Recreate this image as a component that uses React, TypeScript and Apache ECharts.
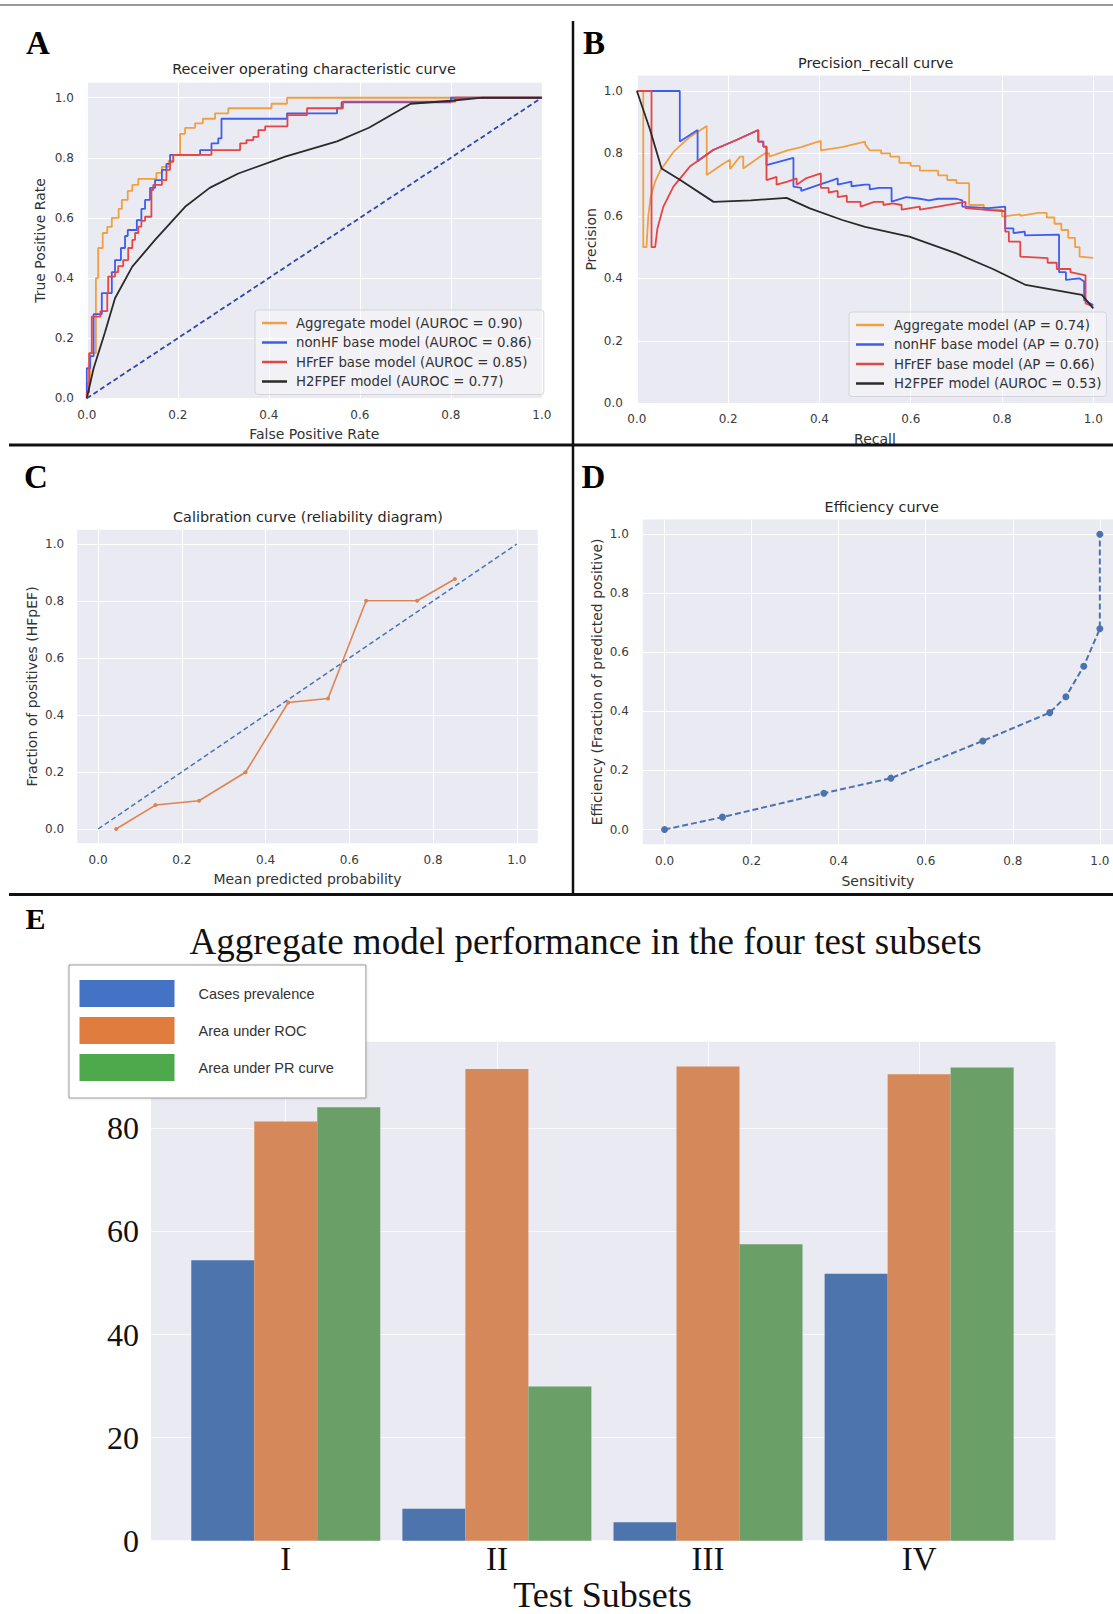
import React, { useEffect, useRef } from 'react';
import * as echarts from 'echarts';

// ---------- Panel A: ROC curves [FPR, TPR] ----------
const rocAggregate = [[0,0],[0,0.05],[0.008,0.05],[0.008,0.15],[0.02,0.15],[0.02,0.4],[0.025,0.4],[0.025,0.5],[0.035,0.5],[0.035,0.55],[0.045,0.55],[0.045,0.57],[0.055,0.57],[0.055,0.6],[0.07,0.6],[0.07,0.63],[0.077,0.63],[0.077,0.66],[0.09,0.66],[0.09,0.69],[0.1,0.69],[0.1,0.71],[0.113,0.71],[0.113,0.73],[0.153,0.73],[0.153,0.75],[0.165,0.75],[0.165,0.77],[0.18,0.77],[0.18,0.79],[0.19,0.79],[0.19,0.81],[0.205,0.81],[0.205,0.88],[0.216,0.88],[0.216,0.9],[0.238,0.9],[0.238,0.915],[0.255,0.915],[0.255,0.93],[0.282,0.93],[0.282,0.948],[0.311,0.948],[0.311,0.965],[0.406,0.965],[0.406,0.98],[0.44,0.98],[0.44,1.0],[1,1]];
const rocNonHF = [[0,0],[0,0.1],[0.007,0.1],[0.007,0.14],[0.015,0.14],[0.015,0.28],[0.033,0.28],[0.033,0.35],[0.055,0.35],[0.055,0.42],[0.062,0.42],[0.062,0.46],[0.075,0.46],[0.075,0.5],[0.084,0.5],[0.084,0.54],[0.09,0.54],[0.09,0.56],[0.11,0.56],[0.11,0.593],[0.12,0.593],[0.12,0.63],[0.128,0.63],[0.128,0.66],[0.139,0.66],[0.139,0.7],[0.15,0.7],[0.15,0.726],[0.165,0.726],[0.165,0.76],[0.175,0.76],[0.175,0.78],[0.183,0.78],[0.183,0.81],[0.249,0.81],[0.249,0.826],[0.274,0.826],[0.274,0.848],[0.289,0.848],[0.289,0.865],[0.296,0.865],[0.296,0.93],[0.44,0.93],[0.44,0.948],[0.55,0.948],[0.55,0.965],[0.56,0.965],[0.56,0.985],[0.8,0.985],[0.8,1.0],[1,1]];
const rocHFrEF = [[0,0],[0,0.02],[0.005,0.02],[0.005,0.15],[0.011,0.15],[0.011,0.272],[0.03,0.272],[0.03,0.29],[0.045,0.29],[0.045,0.35],[0.047,0.35],[0.047,0.405],[0.062,0.405],[0.062,0.42],[0.069,0.42],[0.069,0.44],[0.08,0.44],[0.08,0.46],[0.091,0.46],[0.091,0.5],[0.1,0.5],[0.1,0.527],[0.106,0.527],[0.106,0.55],[0.113,0.55],[0.113,0.571],[0.12,0.571],[0.12,0.59],[0.128,0.59],[0.128,0.604],[0.142,0.604],[0.142,0.693],[0.146,0.693],[0.146,0.71],[0.165,0.71],[0.165,0.726],[0.175,0.726],[0.175,0.76],[0.183,0.76],[0.183,0.787],[0.19,0.787],[0.19,0.81],[0.274,0.81],[0.274,0.826],[0.337,0.826],[0.337,0.848],[0.351,0.848],[0.351,0.859],[0.366,0.859],[0.366,0.87],[0.377,0.87],[0.377,0.892],[0.392,0.892],[0.392,0.905],[0.441,0.905],[0.441,0.942],[0.484,0.942],[0.484,0.965],[0.563,0.965],[0.563,0.987],[0.81,0.987],[0.81,1.0],[1,1]];
const rocH2FPEF = [[0,0],[0.015,0.1],[0.04,0.22],[0.062,0.333],[0.1,0.438],[0.15,0.527],[0.216,0.637],[0.27,0.7],[0.333,0.748],[0.436,0.804],[0.55,0.855],[0.62,0.9],[0.712,0.98],[0.8,0.99],[0.87,1.0],[1,1]];
const rocChance = [[0,0],[1,1]];
const rocNames = ['Aggregate model (AUROC = 0.90)', 'nonHF base model (AUROC = 0.86)', 'HFrEF base model (AUROC = 0.85)', 'H2FPEF model (AUROC = 0.77)'];

// ---------- Panel B: precision-recall curves [recall, precision] ----------
const prAggregate = [[0,1],[0.014,1],[0.014,0.5],[0.021,0.5],[0.025,0.6],[0.03,0.66],[0.04,0.71],[0.051,0.745],[0.08,0.805],[0.116,0.853],[0.153,0.888],[0.153,0.731],[0.19,0.768],[0.204,0.78],[0.204,0.75],[0.226,0.79],[0.233,0.79],[0.233,0.752],[0.28,0.8],[0.29,0.8],[0.29,0.79],[0.33,0.81],[0.36,0.82],[0.38,0.83],[0.403,0.84],[0.403,0.81],[0.45,0.82],[0.5,0.838],[0.5,0.83],[0.51,0.81],[0.535,0.81],[0.535,0.8],[0.555,0.8],[0.555,0.79],[0.575,0.79],[0.575,0.77],[0.6,0.77],[0.6,0.76],[0.62,0.76],[0.62,0.745],[0.66,0.745],[0.66,0.73],[0.68,0.73],[0.68,0.715],[0.7,0.715],[0.7,0.705],[0.728,0.705],[0.728,0.635],[0.76,0.635],[0.76,0.62],[0.8,0.62],[0.8,0.598],[0.84,0.605],[0.84,0.6],[0.88,0.61],[0.898,0.61],[0.898,0.595],[0.915,0.595],[0.915,0.575],[0.93,0.575],[0.93,0.555],[0.945,0.555],[0.945,0.53],[0.96,0.53],[0.96,0.5],[0.97,0.5],[0.97,0.47],[1.0,0.466]];
const prNonHF = [[0,1],[0.094,1],[0.094,0.838],[0.133,0.875],[0.133,0.775],[0.167,0.811],[0.218,0.843],[0.266,0.875],[0.266,0.838],[0.277,0.838],[0.277,0.822],[0.284,0.822],[0.284,0.763],[0.343,0.786],[0.343,0.694],[0.36,0.69],[0.36,0.68],[0.4,0.7],[0.42,0.71],[0.44,0.72],[0.44,0.7],[0.47,0.71],[0.47,0.695],[0.5,0.7],[0.51,0.7],[0.51,0.685],[0.53,0.69],[0.558,0.69],[0.558,0.646],[0.59,0.66],[0.62,0.655],[0.64,0.65],[0.66,0.655],[0.7,0.655],[0.713,0.65],[0.713,0.63],[0.77,0.625],[0.807,0.63],[0.807,0.56],[0.825,0.56],[0.825,0.545],[0.85,0.55],[0.85,0.538],[0.925,0.54],[0.925,0.42],[0.94,0.42],[0.94,0.395],[0.97,0.4],[0.98,0.39],[0.98,0.33],[1.0,0.315]];
const prHFrEF = [[0,1],[0.032,1],[0.032,0.5],[0.04,0.5],[0.045,0.56],[0.058,0.63],[0.08,0.694],[0.116,0.758],[0.167,0.811],[0.218,0.843],[0.266,0.875],[0.266,0.838],[0.277,0.838],[0.277,0.822],[0.284,0.822],[0.284,0.715],[0.306,0.725],[0.306,0.7],[0.33,0.71],[0.35,0.72],[0.35,0.7],[0.37,0.72],[0.403,0.736],[0.403,0.69],[0.42,0.69],[0.42,0.675],[0.44,0.68],[0.44,0.66],[0.46,0.665],[0.46,0.645],[0.49,0.645],[0.49,0.63],[0.52,0.645],[0.54,0.645],[0.54,0.635],[0.56,0.64],[0.58,0.635],[0.58,0.62],[0.62,0.63],[0.62,0.62],[0.66,0.63],[0.7,0.64],[0.72,0.645],[0.72,0.625],[0.76,0.62],[0.807,0.615],[0.807,0.55],[0.815,0.55],[0.815,0.518],[0.84,0.518],[0.84,0.47],[0.9,0.465],[0.9,0.45],[0.92,0.45],[0.92,0.43],[0.95,0.43],[0.95,0.42],[0.983,0.41],[0.983,0.32],[1.0,0.31]];
const prH2FPEF = [[0,1],[0.029,0.875],[0.054,0.752],[0.095,0.715],[0.168,0.645],[0.25,0.65],[0.328,0.658],[0.379,0.624],[0.45,0.587],[0.5,0.565],[0.597,0.534],[0.7,0.48],[0.78,0.43],[0.852,0.379],[0.975,0.347],[1.0,0.304]];
const prNames = ['Aggregate model (AP = 0.74)', 'nonHF base model (AP = 0.70)', 'HFrEF base model (AP = 0.66)', 'H2FPEF model (AUROC = 0.53)'];

// ---------- Panel C: calibration ----------
const calibMeanPredicted = [0.043, 0.137, 0.241, 0.352, 0.454, 0.549, 0.64, 0.762, 0.852];
const calibFractionPositives = [0, 0.084, 0.099, 0.199, 0.444, 0.458, 0.801, 0.801, 0.877];
const calibPerfect = [[0,0],[1,1]];

// ---------- Panel D: efficiency ----------
const effSensitivity = [0, 0.133, 0.366, 0.52, 0.731, 0.885, 0.922, 0.963, 1.0, 1.0];
const effEfficiency = [0, 0.042, 0.123, 0.174, 0.3, 0.396, 0.45, 0.553, 0.68, 1.0];

// ---------- Panel E: bars ----------
const subsetCategories = ['I', 'II', 'III', 'IV'];
const casesPrevalence = [54.4, 6.2, 3.6, 51.8];
const areaUnderROC = [81.3, 91.5, 92.0, 90.5];
const areaUnderPR = [84.1, 29.9, 57.5, 91.8];
const barSeriesNames = ['Cases prevalence', 'Area under ROC', 'Area under PR curve'];

const unitTicks = [0, 0.2, 0.4, 0.6, 0.8, 1.0];
const barTicks = [0, 20, 40, 60, 80];
const subsetIndexTicks = [0, 1, 2, 3];

const BG = '#EAEAF2';
const SANS = 'DejaVu Sans';
const SERIF = 'Liberation Serif';
const C_ORANGE = '#f0a040';
const C_BLUE = '#3d5cf0';
const C_RED = '#e64545';
const C_BLACK = '#2a2a2a';

function unitAxis(gridIndex: number, min: number, max: number, name: string, nameGap: number, margin: number) {
  return {
    type: 'value', gridIndex, min, max,
    name, nameLocation: 'middle', nameGap,
    nameTextStyle: { fontFamily: SANS, fontSize: 14, color: '#333' },
    axisLine: { show: false },
    axisTick: { show: false, customValues: unitTicks },
    axisLabel: { customValues: unitTicks, margin, fontFamily: SANS, fontSize: 12, color: '#3a3a3a', formatter: (v: number) => v.toFixed(1) },
    splitLine: { show: true, lineStyle: { color: '#ffffff', width: 1 } },
  };
}

function lineSeries(name: string, data: number[][], color: string, idx: number, extra: any = {}) {
  return {
    type: 'line', name, data, xAxisIndex: idx, yAxisIndex: idx,
    showSymbol: false, symbol: 'none', smooth: false,
    lineStyle: { color, width: 1.8 }, itemStyle: { color },
    emphasis: { disabled: true }, z: 3,
    ...extra,
  };
}

function txt(x: number, y: number, text: string, font: string, fill = '#000') {
  return {
    type: 'text', x, y, z: 50,
    style: { text, font, fill, align: 'center', verticalAlign: 'middle', textAlign: 'center', textVerticalAlign: 'middle' },
  };
}

function hline(x1: number, y1: number, x2: number, y2: number, width: number, color: string) {
  return { type: 'line', z: 60, shape: { x1, y1, x2, y2 }, style: { stroke: color, lineWidth: width } };
}

export default function App() {
  const ref = useRef<HTMLDivElement>(null);
  useEffect(() => {
    if (!ref.current) return;
    const chart = echarts.init(ref.current, undefined, { renderer: 'svg' });
    const gridBase = { show: true, backgroundColor: BG, borderWidth: 0, containLabel: false };
    const legendLine = (left: number, top: number, names: string[], colors: string[], itemW: number, textPad: number, padRight: number) => ({
      left, top, orient: 'vertical', selectedMode: false, icon: 'rect',
      itemWidth: itemW, itemHeight: 2.5, itemGap: 5.5,
      padding: [6, padRight, 6, 7],
      backgroundColor: 'rgba(255,255,255,0.35)', borderColor: '#d4d4dc', borderWidth: 1, borderRadius: 3,
      textStyle: { fontFamily: SANS, fontSize: 13.3, color: '#333', lineHeight: 14, padding: [0, 0, 0, textPad] },
      data: names.map((n, i) => ({ name: n, itemStyle: { color: colors[i] } })),
    });
    const colors4 = [C_ORANGE, C_BLUE, C_RED, C_BLACK];

    const option: any = {
      animation: false,
      grid: [
        { ...gridBase, left: 86.8, top: 82.7, width: 455, height: 315.6 },
        { ...gridBase, left: 636.9, top: 75.4, width: 476.1, height: 327.9 },
        { ...gridBase, left: 77.2, top: 529.75, width: 460.6, height: 313.5 },
        { ...gridBase, left: 642.8, top: 519.5, width: 470.2, height: 324.8 },
        { ...gridBase, left: 151, top: 1041.7, width: 904.5, height: 499 },
        { show: false, left: 180.2, top: 1041.7, width: 844.5, height: 499, containLabel: false },
      ],
      xAxis: [
        unitAxis(0, 0, 1, 'False Positive Rate', 29, 11),
        unitAxis(1, 0, 1.0432, 'Recall', 28.5, 10),
        unitAxis(2, -0.05, 1.05, 'Mean predicted probability', 29, 11),
        unitAxis(3, -0.05, 1.0302, 'Sensitivity', 29.5, 11),
        {
          type: 'value', gridIndex: 4, min: -0.638, max: 3.646,
          axisLine: { show: false }, axisTick: { show: false, customValues: subsetIndexTicks },
          axisLabel: { show: false, customValues: subsetIndexTicks },
          splitLine: { show: true, lineStyle: { color: 'rgba(255,255,255,0.75)', width: 1 } },
        },
        {
          type: 'category', gridIndex: 5, data: subsetCategories,
          name: 'Test Subsets', nameLocation: 'middle', nameGap: 36,
          nameTextStyle: { fontFamily: SERIF, fontSize: 36, color: '#111' },
          axisLine: { show: false }, axisTick: { show: false },
          axisLabel: { fontFamily: SERIF, fontSize: 33, color: '#111', margin: 2 },
          splitLine: { show: false },
        },
      ],
      yAxis: [
        unitAxis(0, 0, 1.05, 'True Positive Rate', 40, 13),
        unitAxis(1, 0, 1.05, 'Precision', 39, 14),
        unitAxis(2, -0.05, 1.05, 'Fraction of positives (HFpEF)', 38, 13),
        unitAxis(3, -0.05, 1.05, 'Efficiency (Fraction of predicted positive)', 39, 14),
        {
          type: 'value', gridIndex: 4, min: 0, max: 96.8,
          axisLine: { show: false }, axisTick: { show: false, customValues: barTicks },
          axisLabel: { customValues: barTicks, margin: 12, fontFamily: SERIF, fontSize: 32, color: '#111' },
          splitLine: { show: true, lineStyle: { color: 'rgba(255,255,255,0.75)', width: 1 } },
        },
        { type: 'value', gridIndex: 5, min: 0, max: 96.8, show: false, splitLine: { show: false } },
      ],
      legend: [
        legendLine(255, 310, rocNames, colors4, 25, 4, 12),
        legendLine(849, 312, prNames, colors4, 28, 5, 5),
        {
          left: 69, top: 965, orient: 'vertical', selectedMode: false, icon: 'rect',
          itemWidth: 95, itemHeight: 27, itemGap: 10,
          padding: [15, 32, 17, 10.5],
          backgroundColor: '#ffffff', borderColor: '#9a9a9a', borderWidth: 1,
          shadowColor: 'rgba(0,0,0,0.15)', shadowBlur: 3,
          textStyle: { fontFamily: 'Liberation Sans', fontSize: 14.5, color: '#333', padding: [0, 0, 0, 19] },
          data: [
            { name: barSeriesNames[0], itemStyle: { color: '#4472c4' } },
            { name: barSeriesNames[1], itemStyle: { color: '#e07d3e' } },
            { name: barSeriesNames[2], itemStyle: { color: '#4ea84c' } },
          ],
        },
      ],
      series: [
        // Panel A
        lineSeries(rocNames[0], rocAggregate, C_ORANGE, 0),
        lineSeries(rocNames[1], rocNonHF, C_BLUE, 0),
        lineSeries(rocNames[2], rocHFrEF, C_RED, 0),
        lineSeries(rocNames[3], rocH2FPEF, C_BLACK, 0),
        lineSeries('chance', rocChance, '#3246a8', 0, { lineStyle: { color: '#3246a8', width: 1.8, type: [5, 3] }, z: 4 }),
        // Panel B
        lineSeries(prNames[0], prAggregate, C_ORANGE, 1),
        lineSeries(prNames[1], prNonHF, C_BLUE, 1),
        lineSeries(prNames[2], prHFrEF, C_RED, 1),
        lineSeries(prNames[3], prH2FPEF, C_BLACK, 1),
        // Panel C
        lineSeries('perfect calibration', calibPerfect, '#4c72b0', 2, { lineStyle: { color: '#4c72b0', width: 1.5, type: [5, 3] } }),
        lineSeries('Aggregate calibration', calibMeanPredicted.map((x, i) => [x, calibFractionPositives[i]]), '#dd8452', 2, {
          showSymbol: true, symbol: 'circle', symbolSize: 4, lineStyle: { color: '#dd8452', width: 1.6 },
        }),
        // Panel D
        lineSeries('efficiency', effSensitivity.map((x, i) => [x, effEfficiency[i]]), '#4c72b0', 3, {
          showSymbol: true, symbol: 'circle', symbolSize: 7, lineStyle: { color: '#4c72b0', width: 2, type: [6, 3] },
        }),
        // Panel E
        { type: 'bar', name: barSeriesNames[0], data: casesPrevalence, xAxisIndex: 5, yAxisIndex: 5, barWidth: 63, barGap: '0%', itemStyle: { color: '#4e74ad' }, emphasis: { disabled: true } },
        { type: 'bar', name: barSeriesNames[1], data: areaUnderROC, xAxisIndex: 5, yAxisIndex: 5, barWidth: 63, barGap: '0%', itemStyle: { color: '#d5895a' }, emphasis: { disabled: true } },
        { type: 'bar', name: barSeriesNames[2], data: areaUnderPR, xAxisIndex: 5, yAxisIndex: 5, barWidth: 63, barGap: '0%', itemStyle: { color: '#6a9f68' }, emphasis: { disabled: true } },
      ],
      graphic: [
        hline(0, 5, 1113, 5, 1.5, '#777777'),
        hline(573, 21, 573, 894, 2.5, '#111111'),
        hline(9, 445, 1113, 445, 3, '#111111'),
        hline(9, 894.5, 1113, 894.5, 3, '#111111'),
        txt(38, 43, 'A', 'bold 33px "Liberation Serif"'),
        txt(594, 43, 'B', 'bold 33px "Liberation Serif"'),
        txt(36, 477, 'C', 'bold 33px "Liberation Serif"'),
        txt(593.5, 477, 'D', 'bold 33px "Liberation Serif"'),
        txt(35.5, 918, 'E', 'bold 30px "Liberation Serif"'),
        txt(314, 69, 'Receiver operating characteristic curve', '14.4px "DejaVu Sans"', '#262626'),
        txt(875.7, 62.7, 'Precision_recall curve', '14.4px "DejaVu Sans"', '#262626'),
        txt(308, 517, 'Calibration curve (reliability diagram)', '14.4px "DejaVu Sans"', '#262626'),
        txt(881.7, 506.7, 'Efficiency curve', '14.4px "DejaVu Sans"', '#262626'),
        txt(585.6, 941.7, 'Aggregate model performance in the four test subsets', '37px "Liberation Serif"', '#111'),
      ],
    };
    chart.setOption(option);
    return () => chart.dispose();
  }, []);
  return <div ref={ref} style={{ position: 'absolute', left: 0, top: 0, width: 1113, height: 1614, background: '#fff' }} />;
}
